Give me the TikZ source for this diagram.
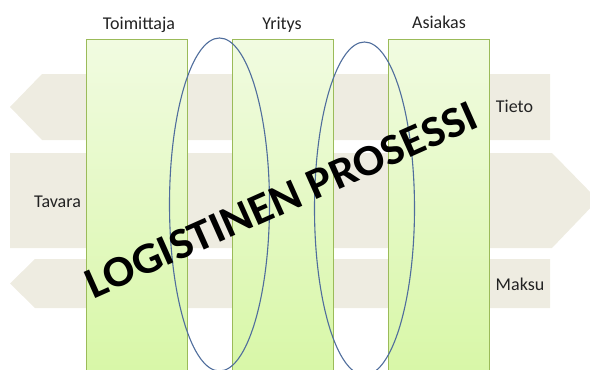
\documentclass[tikz,border=0pt]{standalone}
\usepackage{fontspec}
\setmainfont{Carlito}
\usetikzlibrary{shapes.geometric}
\definecolor{flowbeige}{HTML}{EEECE1}
\definecolor{lanetop}{HTML}{F1FBE1}
\definecolor{lanebot}{HTML}{D7F7A5}
\definecolor{laneedge}{HTML}{9BBB59}
\definecolor{ringblue}{HTML}{4F6D9C}
\definecolor{labeltext}{HTML}{222222}
\tikzset{
  flow/.style={fill=flowbeige, draw=none},
  lane/.style={draw=laneedge, line width=1.1pt, top color=lanetop, bottom color=lanebot,
    rectangle, inner sep=0pt, anchor=north west, minimum width=101pt, minimum height=345pt},
  ring/.style={draw=ringblue, line width=1.1pt, ellipse, inner sep=0pt,
    minimum width=100pt, minimum height=333pt},
  lbl/.style={font=\fontsize{18}{20}\selectfont, text=labeltext, inner sep=0pt, anchor=base},
  bigtitle/.style={font=\bfseries\fontsize{44}{44}\selectfont, text=black, inner sep=0pt}
}
\begin{document}
\begin{tikzpicture}[x=1pt,y=-1pt]
\useasboundingbox (0,0) rectangle (590,370);
\clip (0,0) rectangle (590,370);
% flows
\fill[flow] (550,74) -- (42,74) -- (10,107) -- (42,140) -- (550,140) -- cycle;
\fill[flow] (10,153) -- (552,153) -- (598,200) -- (552,248) -- (10,248) -- cycle;
\fill[flow] (550,259) -- (35,259) -- (10,283.5) -- (35,308) -- (550,308) -- cycle;
% lanes
\node[lane] (toimlane) at (86,39) {};
\node[lane] (yritlane) at (232,39) {};
\node[lane] (asialane) at (388,39) {};
% rings
\node[ring] (ringleft) at (219.5,204.5) {};
\node[ring] (ringright) at (364.5,208.5) {};
% labels
\node[lbl] (toimittaja) at (139,29) {Toimittaja};
\node[lbl] (yritys) at (282,29) {Yritys};
\node[lbl] (asiakas) at (439,28) {Asiakas};
\node[lbl] (tieto) at (514.5,112) {Tieto};
\node[lbl] (tavara) at (57.5,207) {Tavara};
\node[lbl] (maksu) at (520,290) {Maksu};
% title
\node[bigtitle, rotate=24, xscale=1.05] (title) at (281,200) {LOGISTINEN PROSESSI};
\end{tikzpicture}
\end{document}
